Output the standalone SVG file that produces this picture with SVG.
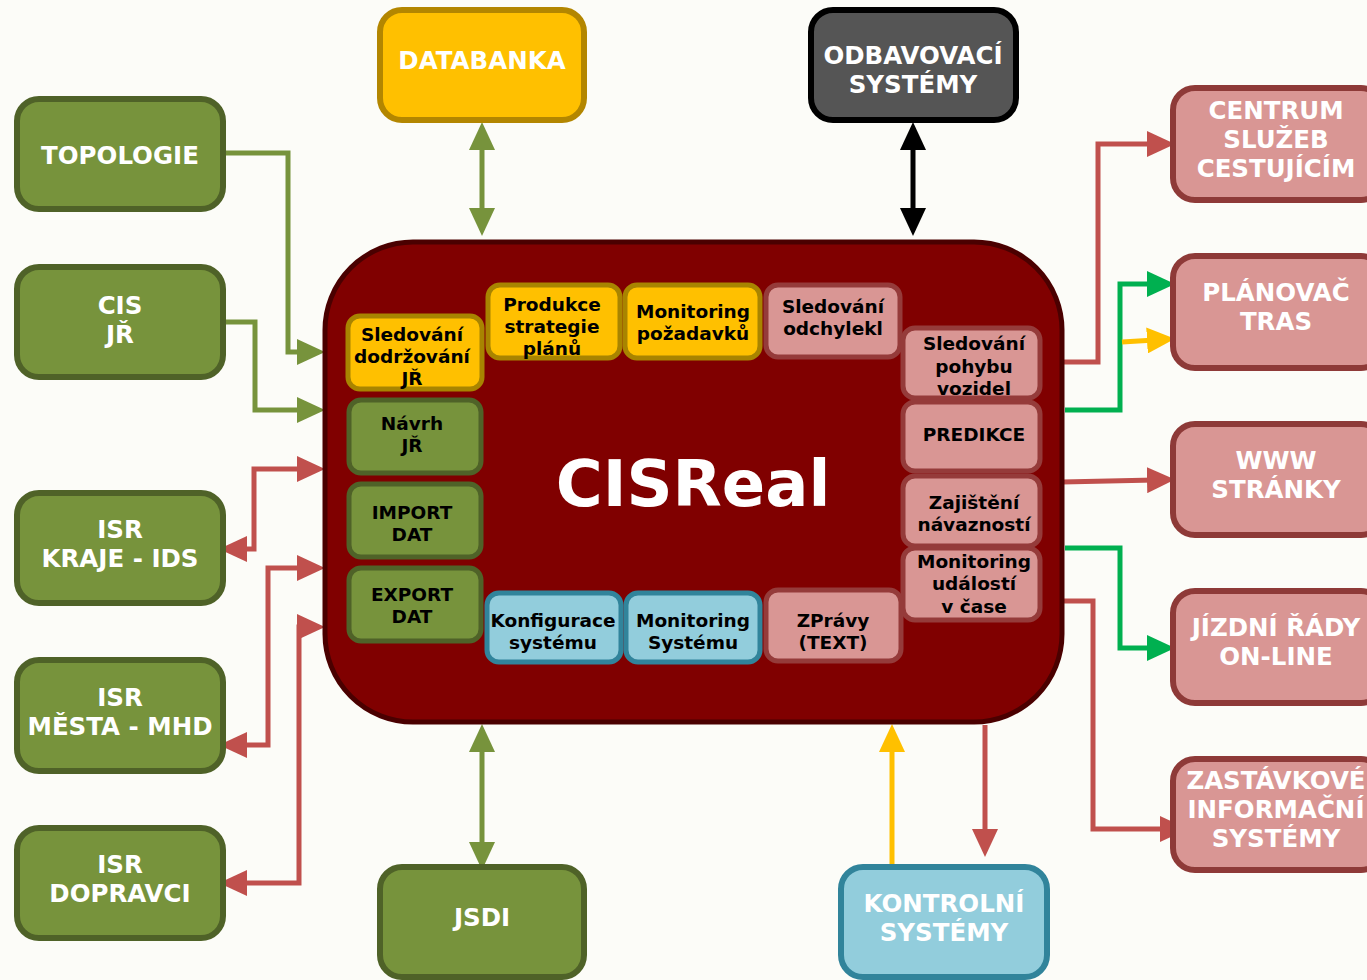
<svg xmlns="http://www.w3.org/2000/svg" width="1367" height="980" viewBox="0 0 1367 980">
<style>
text{font-family:"DejaVu Sans","Verdana",sans-serif;font-weight:bold;text-anchor:middle}
.ot{fill:#fff;font-size:24.5px}
.it{fill:#000;font-size:18.5px}
.og{fill:#77933c;stroke:#4f6228;stroke-width:6}
.oy{fill:#ffc000;stroke:#b38600;stroke-width:6}
.ok{fill:#555;stroke:#000;stroke-width:6}
.ob{fill:#92cddc;stroke:#31849b;stroke-width:6}
.op{fill:#d99694;stroke:#8e3a38;stroke-width:6}
.ig{fill:#77933c;stroke:#4f6228;stroke-width:5}
.iy{fill:#ffc000;stroke:#a88400;stroke-width:5}
.ib{fill:#92cddc;stroke:#31849b;stroke-width:5}
.ip{fill:#d99694;stroke:#953b3a;stroke-width:5}
.c{fill:none;stroke-width:5}
</style>
<defs>
<marker id="ag" viewBox="0 0 28 26" markerWidth="28" markerHeight="26" refX="8" refY="13" orient="auto-start-reverse" markerUnits="userSpaceOnUse"><path d="M0,0 L28,13 L0,26 z" fill="#77933c"/></marker>
<marker id="ar" viewBox="0 0 28 26" markerWidth="28" markerHeight="26" refX="8" refY="13" orient="auto-start-reverse" markerUnits="userSpaceOnUse"><path d="M0,0 L28,13 L0,26 z" fill="#c0504d"/></marker>
<marker id="ak" viewBox="0 0 28 26" markerWidth="28" markerHeight="26" refX="8" refY="13" orient="auto-start-reverse" markerUnits="userSpaceOnUse"><path d="M0,0 L28,13 L0,26 z" fill="#000"/></marker>
<marker id="ay" viewBox="0 0 28 26" markerWidth="28" markerHeight="26" refX="8" refY="13" orient="auto-start-reverse" markerUnits="userSpaceOnUse"><path d="M0,0 L28,13 L0,26 z" fill="#ffc000"/></marker>
<marker id="an" viewBox="0 0 28 26" markerWidth="28" markerHeight="26" refX="8" refY="13" orient="auto-start-reverse" markerUnits="userSpaceOnUse"><path d="M0,0 L28,13 L0,26 z" fill="#00b050"/></marker>
</defs>
<rect width="1367" height="980" fill="#fcfcf8"/>

<g id="connectors">
<path class="c" stroke="#77933c" d="M223,153 H288 V352 H305" marker-end="url(#ag)"/>
<path class="c" stroke="#77933c" d="M223,322 H255 V410 H305" marker-end="url(#ag)"/>
<path class="c" stroke="#c0504d" d="M305,469 H254 V549 H239" marker-start="url(#ar)" marker-end="url(#ar)"/>
<path class="c" stroke="#c0504d" d="M305,568 H268 V745 H239" marker-start="url(#ar)" marker-end="url(#ar)"/>
<path class="c" stroke="#c0504d" d="M305,627 H299 V883 H239" marker-start="url(#ar)" marker-end="url(#ar)"/>
<path class="c" stroke="#77933c" d="M482,142 V216" marker-start="url(#ag)" marker-end="url(#ag)"/>
<path class="c" stroke="#000" d="M913,142 V216" marker-start="url(#ak)" marker-end="url(#ak)"/>
<path class="c" stroke="#77933c" d="M482,744 V850" marker-start="url(#ag)" marker-end="url(#ag)"/>
<path class="c" stroke="#ffc000" d="M892,867 V744" marker-end="url(#ay)"/>
<path class="c" stroke="#c0504d" d="M985,725 V837" marker-end="url(#ar)"/>
<path class="c" stroke="#c0504d" d="M1062,362 H1098 V144 H1155" marker-end="url(#ar)"/>
<path class="c" stroke="#00b050" d="M1065,410 H1120 V284 H1155" marker-end="url(#an)"/>
<path class="c" stroke="#ffc000" d="M1122,342 L1155,340" marker-end="url(#ay)"/>
<path class="c" stroke="#c0504d" d="M1062,482 L1155,480" marker-end="url(#ar)"/>
<path class="c" stroke="#00b050" d="M1065,548 H1120 V648 H1155" marker-end="url(#an)"/>
<path class="c" stroke="#c0504d" d="M1062,601 H1093 V829 H1168" marker-end="url(#ar)"/>
</g>

<g id="topologie"><rect class="og" x="17" y="99" width="206" height="110" rx="22"/><text class="ot" x="120" y="164">TOPOLOGIE</text></g>
<g id="cis-jr"><rect class="og" x="17" y="267" width="206" height="110" rx="22"/><text class="ot" x="120" y="314">CIS</text><text class="ot" x="120" y="343">JŘ</text></g>
<g id="isr-kraje"><rect class="og" x="17" y="493" width="206" height="110" rx="22"/><text class="ot" x="120" y="538">ISR</text><text class="ot" x="120" y="567">KRAJE - IDS</text></g>
<g id="isr-mesta"><rect class="og" x="17" y="660" width="206" height="111" rx="22"/><text class="ot" x="120" y="706">ISR</text><text class="ot" x="120" y="735">MĚSTA - MHD</text></g>
<g id="isr-dopravci"><rect class="og" x="17" y="828" width="206" height="110" rx="22"/><text class="ot" x="120" y="873">ISR</text><text class="ot" x="120" y="902">DOPRAVCI</text></g>

<g id="databanka"><rect class="oy" x="380" y="10" width="204" height="110" rx="22"/><text class="ot" x="482" y="69">DATABANKA</text></g>
<g id="odbavovaci"><rect class="ok" x="811" y="10" width="205" height="110" rx="22"/><text class="ot" x="913" y="64">ODBAVOVACÍ</text><text class="ot" x="913" y="93">SYSTÉMY</text></g>
<g id="jsdi"><rect class="og" x="380" y="867" width="204" height="110" rx="22"/><text class="ot" x="482" y="926">JSDI</text></g>
<g id="kontrolni"><rect class="ob" x="841" y="867" width="206" height="110" rx="22"/><text class="ot" x="944" y="912">KONTROLNÍ</text><text class="ot" x="944" y="941">SYSTÉMY</text></g>

<g id="centrum"><rect class="op" x="1173" y="88" width="210" height="112" rx="22"/><text class="ot" x="1276" y="119">CENTRUM</text><text class="ot" x="1276" y="148">SLUŽEB</text><text class="ot" x="1276" y="177">CESTUJÍCÍM</text></g>
<g id="planovac"><rect class="op" x="1173" y="256" width="210" height="112" rx="22"/><text class="ot" x="1276" y="301">PLÁNOVAČ</text><text class="ot" x="1276" y="330">TRAS</text></g>
<g id="www"><rect class="op" x="1173" y="424" width="210" height="111" rx="22"/><text class="ot" x="1276" y="469">WWW</text><text class="ot" x="1276" y="498">STRÁNKY</text></g>
<g id="jizdni"><rect class="op" x="1173" y="591" width="210" height="112" rx="22"/><text class="ot" x="1276" y="636">JÍZDNÍ ŘÁDY</text><text class="ot" x="1276" y="665">ON-LINE</text></g>
<g id="zastavkove"><rect class="op" x="1173" y="759" width="210" height="111" rx="22"/><text class="ot" x="1276" y="789">ZASTÁVKOVÉ</text><text class="ot" x="1276" y="818">INFORMAČNÍ</text><text class="ot" x="1276" y="847">SYSTÉMY</text></g>

<g id="cisreal"><rect x="325" y="242" width="737" height="480" rx="88" fill="#800000" stroke="#4a0000" stroke-width="5"/><text x="693" y="506" fill="#fff" font-size="64">CISReal</text></g>

<g id="sledovani-dodrzovani"><rect class="iy" x="348" y="316" width="134" height="73" rx="12"/><text class="it" x="412" y="341">Sledování</text><text class="it" x="412" y="363">dodržování</text><text class="it" x="412" y="385">JŘ</text></g>
<g id="produkce"><rect class="iy" x="488" y="285" width="132" height="73" rx="12"/><text class="it" x="552" y="311">Produkce</text><text class="it" x="552" y="333">strategie</text><text class="it" x="552" y="355">plánů</text></g>
<g id="monitoring-pozadavku"><rect class="iy" x="625" y="285" width="135" height="73" rx="12"/><text class="it" x="693" y="318">Monitoring</text><text class="it" x="693" y="340">požadavků</text></g>
<g id="sledovani-odchylek"><rect class="ip" x="766" y="285" width="134" height="72" rx="12"/><text class="it" x="833" y="313">Sledování</text><text class="it" x="833" y="335">odchylekl</text></g>
<g id="sledovani-pohybu"><rect class="ip" x="903" y="328" width="137" height="70" rx="12"/><text class="it" x="974" y="350">Sledování</text><text class="it" x="974" y="373">pohybu</text><text class="it" x="974" y="395">vozidel</text></g>
<g id="predikce"><rect class="ip" x="903" y="402" width="137" height="69" rx="12"/><text class="it" x="974" y="441">PREDIKCE</text></g>
<g id="zajisteni"><rect class="ip" x="903" y="476" width="137" height="70" rx="12"/><text class="it" x="974" y="509">Zajištění</text><text class="it" x="974" y="531">návazností</text></g>
<g id="monitoring-udalosti"><rect class="ip" x="903" y="548" width="137" height="72" rx="12"/><text class="it" x="974" y="568">Monitoring</text><text class="it" x="974" y="590">událostí</text><text class="it" x="974" y="613">v čase</text></g>
<g id="navrh"><rect class="ig" x="349" y="400" width="132" height="73" rx="12"/><text class="it" x="412" y="430">Návrh</text><text class="it" x="412" y="452">JŘ</text></g>
<g id="import"><rect class="ig" x="349" y="484" width="132" height="73" rx="12"/><text class="it" x="412" y="519">IMPORT</text><text class="it" x="412" y="541">DAT</text></g>
<g id="export"><rect class="ig" x="349" y="568" width="132" height="73" rx="12"/><text class="it" x="412" y="601">EXPORT</text><text class="it" x="412" y="623">DAT</text></g>
<g id="konfigurace"><rect class="ib" x="487" y="593" width="134" height="69" rx="12"/><text class="it" x="553" y="627">Konfigurace</text><text class="it" x="553" y="649">systému</text></g>
<g id="monitoring-systemu"><rect class="ib" x="626" y="593" width="134" height="69" rx="12"/><text class="it" x="693" y="627">Monitoring</text><text class="it" x="693" y="649">Systému</text></g>
<g id="zpravy"><rect class="ip" x="766" y="590" width="135" height="71" rx="12"/><text class="it" x="833" y="627">ZPrávy</text><text class="it" x="833" y="649">(TEXT)</text></g>
</svg>
